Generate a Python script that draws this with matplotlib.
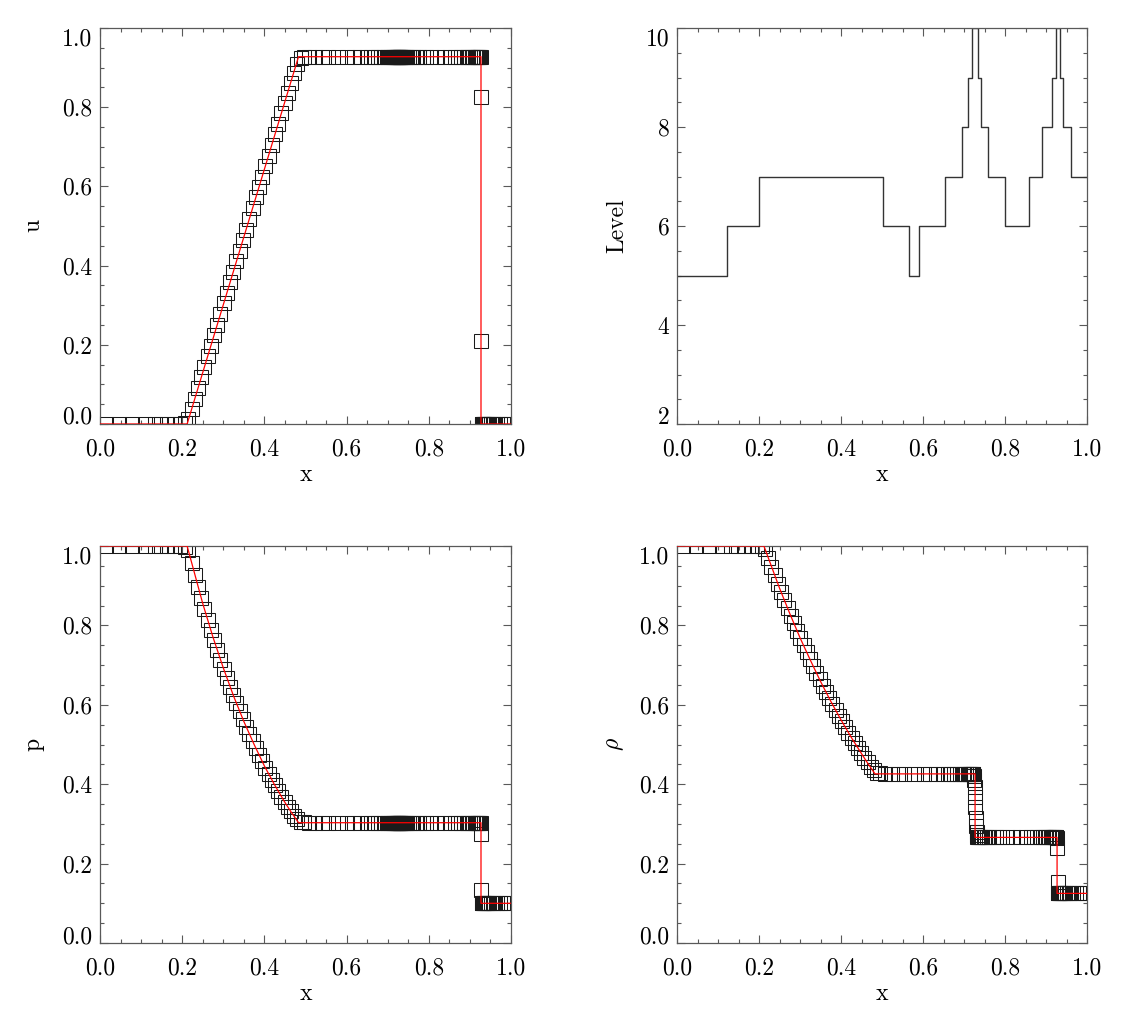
import numpy as np
import matplotlib
matplotlib.use("Agg")
import matplotlib.pyplot as plt
from matplotlib.ticker import MultipleLocator

plt.rcParams['font.family'] = ['cmr10', 'DejaVu Serif']
plt.rcParams['mathtext.fontset'] = 'cm'
plt.rcParams['axes.formatter.use_mathtext'] = True

# ---------------- data ----------------
# AMR leaf segments (edges) and refinement level of each segment
seg_edges = [0.0, 0.125, 0.203125, 0.5, 0.5625, 0.59375, 0.65625, 0.6953125,
             0.7109375, 0.720703125, 0.734375, 0.7421875, 0.7578125, 0.796875,
             0.859375, 0.890625, 0.9140625, 0.923828125, 0.93359375, 0.94140625,
             0.9609375, 1.0]
seg_levels = [5, 6, 7, 6, 5, 6, 7, 8, 9, 10, 9, 8, 7, 6, 7, 8, 9, 10, 9, 8, 7]

# states (left, star-left, star-right, right)
u_left, p_left, rho_left = 0.0, 1.0, 1.0
u_star, p_star = 0.928, 0.303
rho_star_l, rho_star_r = 0.426, 0.266
u_right, p_right, rho_right = 0.0, 0.100, 0.125

# rarefaction cells (level-7 segment 0.203-0.5)
u_rare = [0.003, 0.013, 0.038, 0.064, 0.091, 0.118, 0.144, 0.171, 0.198, 0.224,
          0.251, 0.278, 0.305, 0.331, 0.358, 0.385, 0.411, 0.438, 0.465, 0.491,
          0.518, 0.545, 0.572, 0.598, 0.625, 0.652, 0.678, 0.705, 0.732, 0.758,
          0.785, 0.811, 0.837, 0.862, 0.886, 0.909, 0.923, 0.927]
p_rare = [0.998, 0.989, 0.957, 0.927, 0.897, 0.869, 0.841, 0.814, 0.788, 0.763,
          0.738, 0.714, 0.691, 0.668, 0.646, 0.625, 0.604, 0.584, 0.564, 0.545,
          0.526, 0.509, 0.491, 0.474, 0.458, 0.442, 0.426, 0.411, 0.397, 0.383,
          0.369, 0.356, 0.343, 0.332, 0.321, 0.312, 0.306, 0.304]
rho_rare = [0.999, 0.992, 0.969, 0.947, 0.926, 0.904, 0.884, 0.864, 0.844, 0.824,
            0.805, 0.786, 0.768, 0.750, 0.732, 0.715, 0.697, 0.681, 0.664, 0.648,
            0.632, 0.617, 0.602, 0.587, 0.572, 0.558, 0.544, 0.530, 0.517, 0.504,
            0.491, 0.478, 0.466, 0.455, 0.444, 0.435, 0.429, 0.427]
# contact cells (level-10 segment 0.7207-0.7344)
rho_contact = [0.426, 0.426, 0.425, 0.421, 0.410, 0.392, 0.368, 0.342, 0.316,
               0.295, 0.280, 0.271, 0.267, 0.266]
# shock cells (level-10 segment 0.9238-0.9336)
u_shock = [0.928, 0.928, 0.928, 0.827, 0.210, 0.0, 0.0, 0.0, 0.0, 0.0]
p_shock = [0.303, 0.303, 0.303, 0.275, 0.134, 0.100, 0.100, 0.100, 0.100, 0.100]
rho_shock = [0.266, 0.266, 0.265, 0.239, 0.154, 0.125, 0.125, 0.125, 0.125, 0.125]

# exact solution (red lines)
x_ex_u = [0.0, 0.212, 0.483, 0.927, 0.927, 1.0]
u_ex = [0.0, 0.0, 0.9275, 0.9275, 0.0, 0.0]
x_ex_p = [0.0, 0.212, 0.25, 0.275, 0.30, 0.325, 0.35, 0.375, 0.40, 0.425, 0.45,
          0.465, 0.483, 0.927, 0.927, 1.0]
p_ex = [1.0, 1.0, 0.855, 0.770, 0.693, 0.622, 0.558, 0.500, 0.446, 0.398, 0.354,
        0.330, 0.303, 0.303, 0.100, 0.100]
x_ex_rho = [0.0, 0.212, 0.25, 0.275, 0.30, 0.325, 0.35, 0.375, 0.40, 0.425, 0.45,
            0.465, 0.483, 0.727, 0.727, 0.927, 0.927, 1.0]
rho_ex = [1.0, 1.0, 0.894, 0.830, 0.769, 0.713, 0.659, 0.609, 0.562, 0.518, 0.477,
          0.453, 0.426, 0.426, 0.266, 0.266, 0.125, 0.125]

xticks = [0.0, 0.2, 0.4, 0.6, 0.8, 1.0]
xticklabels = ['0.0', '0.2', '0.4', '0.6', '0.8', '1.0']
vticks = [0.0, 0.2, 0.4, 0.6, 0.8, 1.0]
vticklabels = ['0.0', '0.2', '0.4', '0.6', '0.8', '1.0']
lticks = [2, 4, 6, 8, 10]
lticklabels = ['2', '4', '6', '8', '10']

# ---------------- build cells ----------------
xc, lev, seg_id = [], [], []
for i, L in enumerate(seg_levels):
    a, b = seg_edges[i], seg_edges[i + 1]
    dx = 2.0 ** (-L)
    n = int(round((b - a) / dx))
    for k in range(n):
        xc.append(a + (k + 0.5) * dx)
        lev.append(L)
        seg_id.append(i)
xc = np.array(xc)
lev = np.array(lev)
seg_id = np.array(seg_id)

u_c, p_c, r_c = [], [], []
ir = ic = ish = 0
for s in seg_id:
    if s <= 1:
        u_c.append(u_left); p_c.append(p_left); r_c.append(rho_left)
    elif s == 2:
        u_c.append(u_rare[ir]); p_c.append(p_rare[ir]); r_c.append(rho_rare[ir]); ir += 1
    elif s <= 8:
        u_c.append(u_star); p_c.append(p_star); r_c.append(rho_star_l)
    elif s == 9:
        u_c.append(u_star); p_c.append(p_star); r_c.append(rho_contact[ic]); ic += 1
    elif s <= 16:
        u_c.append(u_star); p_c.append(p_star); r_c.append(rho_star_r)
    elif s == 17:
        u_c.append(u_shock[ish]); p_c.append(p_shock[ish]); r_c.append(rho_shock[ish]); ish += 1
    else:
        u_c.append(u_right); p_c.append(p_right); r_c.append(rho_right)

# ---------------- figure ----------------
W, H = 1125, 1024
fig = plt.figure(figsize=(W / 100, H / 100), dpi=100)

def axpos(l, t, r, b):
    return [l / W, 1 - b / H, (r - l) / W, (b - t) / H]

ax_u = fig.add_axes(axpos(100, 28, 511, 424))
ax_l = fig.add_axes(axpos(677, 28, 1087, 424))
ax_p = fig.add_axes(axpos(100, 546, 511, 943))
ax_r = fig.add_axes(axpos(677, 546, 1087, 943))

spine_c = '0.35'
FS = 17

def style(ax, yt, ytl, ylim, yminor, ylabel, ylab_off):
    ax.set_xlim(0, 1)
    ax.set_ylim(*ylim)
    ax.set_xticks(xticks)
    ax.set_xticklabels(xticklabels)
    ax.set_yticks(yt)
    ax.set_yticklabels(ytl)
    ax.xaxis.set_minor_locator(MultipleLocator(0.05))
    ax.yaxis.set_minor_locator(MultipleLocator(yminor))
    ax.tick_params(which='both', direction='in', top=True, right=True,
                   color=spine_c, width=0.8, labelsize=FS)
    ax.tick_params(which='major', length=5.8)
    ax.tick_params(which='minor', length=2.9)
    ax.tick_params(axis='x', pad=10.0)
    ax.tick_params(axis='y', pad=5.5)
    for s in ax.spines.values():
        s.set_color(spine_c)
        s.set_linewidth(0.9)
    ticks = ax.yaxis.get_major_ticks()
    ticks[0].label1.set_va('baseline')
    ticks[-1].label1.set_va('top')
    ax.set_xlabel('x', fontsize=FS)
    ax.xaxis.set_label_coords(0.5, -51 / 396)
    ax.xaxis.label.set_va('center')
    ax.set_ylabel(ylabel, fontsize=FS)
    ax.yaxis.set_label_coords(-ylab_off / 410, 0.5)
    ax.yaxis.label.set_va('center')

mk = dict(linestyle='none', marker='s', ms=10.5, mfc='none', mec='0.1', mew=0.75,
          zorder=2)
red = dict(color='red', lw=0.9, zorder=3)

ax_u.plot(xc, u_c, **mk)
ax_u.plot(x_ex_u, u_ex, **red)
style(ax_u, vticks, vticklabels, (0, 1), 0.05, 'u', 67)

xl = np.concatenate([[0.0], xc, [1.0]])
ll = np.concatenate([[lev[0]], lev, [lev[-1]]])
ax_l.plot(xl, ll, drawstyle='steps-mid', color='0.2', lw=1.0)
style(ax_l, lticks, lticklabels, (2, 10), 0.5, 'Level', 60)

ax_p.plot(xc, p_c, **mk)
ax_p.plot(x_ex_p, p_ex, **red)
style(ax_p, vticks, vticklabels, (0, 1), 0.05, 'p', 67)

ax_r.plot(xc, r_c, **mk)
ax_r.plot(x_ex_rho, rho_ex, **red)
style(ax_r, vticks, vticklabels, (0, 1), 0.05, r'$\rho$', 62)

fig.savefig('out.png', dpi=100)
